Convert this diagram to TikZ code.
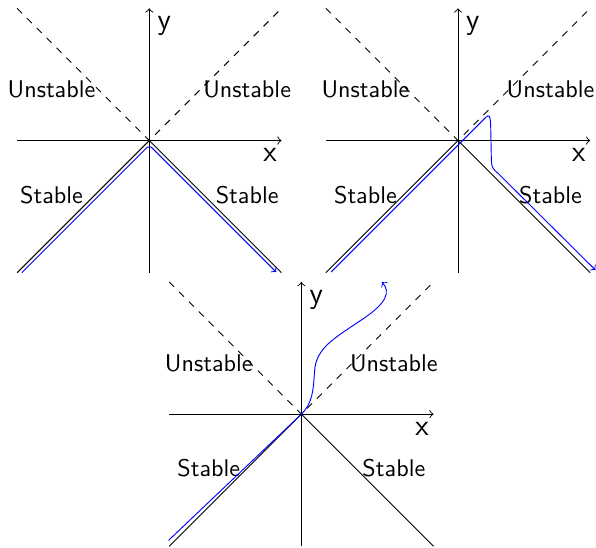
\documentclass[tikz,border=0pt]{standalone}
\begin{document}
\begin{tikzpicture}[font=\sffamily\fontsize{10.4}{12.5}\selectfont]
    \tikzstyle{axis} = [->]
    \tikzstyle{bound} = [dashed]
    \tikzstyle{axlabel} = [font=\sffamily\fontsize{12.8}{15}\selectfont]
    \tikzstyle{traj} = [blue,->]

    \useasboundingbox (-2.259,-6.150) rectangle (6.758,2.126);

    % the three phase portraits
    \foreach \ox/\oy/\lx/\name in {0/0/1.48/one, 4.67/0/1.4/two, 2.3/-4.14/1.4/three} {
      \begin{scope}[shift={(\ox,\oy)}]
        \draw [axis] (-2,0) -- (2,0) node [axlabel, below left, xshift=1.5pt] (\name-x) {x};
        \draw [axis] (0,-2) -- (0,2) node [axlabel, below right] (\name-y) {y};
        \draw [bound] (-2,2) -- (0,0) -- (2,2);
        \draw (-2,-2) -- (0,0) -- (2,-2);
        \node (\name-ul) at (-\lx,0.77) {Unstable};
        \node (\name-ur) at (\lx,0.77) {Unstable};
        \node (\name-sl) at (-\lx,-0.82) {Stable};
        \node (\name-sr) at (\lx,-0.82) {Stable};
      \end{scope}
    }

    % trajectories
    \draw [traj] (-1.93,-2) -- (-0.03,-0.1) -- (0.03,-0.1) -- (1.92,-1.99);
    \begin{scope}[shift={(4.67,0)}]
      \draw [traj] (-1.92,-1.99) -- (0.41,0.34) .. controls (0.47,0.4) and (0.49,0.4) .. (0.495,0.2)
        -- (0.505,-0.3) .. controls (0.51,-0.42) and (0.54,-0.44) .. (0.6,-0.49) -- (2.08,-1.96);
    \end{scope}
    \begin{scope}[shift={(2.3,-4.14)}]
      \draw [traj] (-2.01,-1.91) -- (0,0) .. controls (0.17,0.17) and (0.18,0.35) .. (0.2,0.65)
        .. controls (0.22,1.0) and (0.5,1.15) .. (0.9,1.42) .. controls (1.3,1.68) and (1.35,1.85) .. (1.22,2.0);
    \end{scope}
\end{tikzpicture}
\end{document}
